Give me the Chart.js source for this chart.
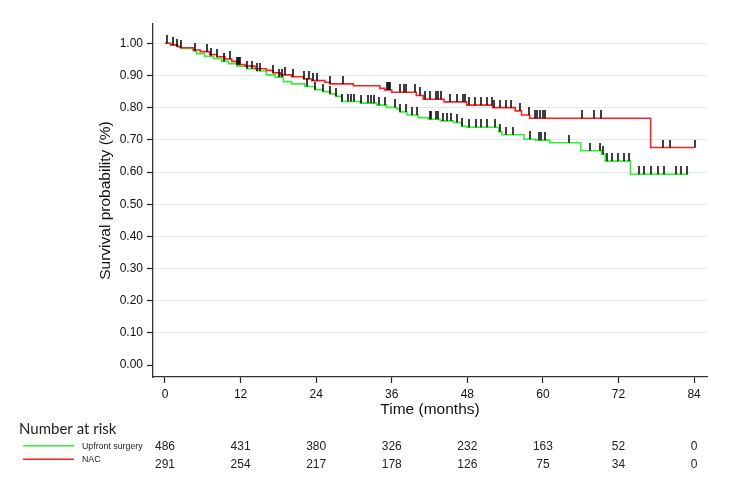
<!DOCTYPE html>
<html>
<head>
<meta charset="utf-8">
<script src="https://cdn.jsdelivr.net/npm/chart.js@4.4.1/dist/chart.umd.min.js"></script>
<style>
  html, body { margin: 0; padding: 0; background: #fff; }
</style>
</head>
<body>
<canvas id="km" width="750" height="498"></canvas>
<script>
/* ── Data ─────────────────────────────────────────── */
const xTicks = [0, 12, 24, 36, 48, 60, 72, 84];
const yTicks = [0, 0.1, 0.2, 0.3, 0.4, 0.5, 0.6, 0.7, 0.8, 0.9, 1.0];

// Kaplan–Meier steps: time of drop (months) and survival after it
const upfrontTimes = [0, 0.9, 2.1, 2.6, 4.5, 5.0, 6.3, 7.7, 9.0, 10.1, 11.4, 13.0, 14.6, 16.1, 17.5,
  18.8, 20.1, 22.2, 23.8, 25.1, 26.2, 27.2, 28.1, 31.0, 33.6, 35.2, 36.8, 37.3, 38.4, 40.2,
  41.8, 43.7, 45.8, 47.1, 47.9, 53.0, 53.5, 57.0, 58.8, 61.1, 66.0, 69.3, 69.9, 73.9];
const upfrontSurv = [1.000, 0.994, 0.989, 0.984, 0.976, 0.968, 0.960, 0.953, 0.944, 0.937, 0.929, 0.921, 0.914, 0.902, 0.895,
  0.881, 0.874, 0.866, 0.856, 0.850, 0.843, 0.835, 0.819, 0.814, 0.808, 0.801, 0.796, 0.787, 0.777, 0.769,
  0.764, 0.759, 0.754, 0.742, 0.739, 0.725, 0.716, 0.702, 0.699, 0.691, 0.666, 0.655, 0.634, 0.593];
const upfrontEnd = 83.1;
const upfrontCensor = [4.8, 7.3, 9.3, 13.1, 13.8, 14.6, 15.1, 18.1, 18.5, 22.5, 23.8, 25.1, 26.2, 27.2,
  28.1, 29.1, 29.5, 30.0, 31.2, 32.3, 32.7, 33.2, 33.9, 34.9, 36.5, 37.3, 38.3, 39.2, 40.0, 42.1,
  42.3, 43.1, 43.4, 44.1, 44.7, 45.4, 46.3, 47.1, 48.3, 49.4, 50.1, 51.1, 52.4, 53.2, 54.2, 55.3,
  57.9, 59.3, 59.7, 60.3, 64.2, 67.4, 69.1, 69.5, 70.2, 70.9, 71.9, 72.9, 73.6, 75.2, 76.1, 77.1,
  78.2, 79.2, 81.1, 82.0, 82.9];

const nacTimes = [0, 0.9, 1.9, 2.4, 4.5, 5.6, 7.1, 8.2, 9.5, 10.6, 11.4, 12.7, 14.3, 16.1, 17.2,
  18.3, 20.1, 22.0, 23.3, 25.4, 26.2, 29.9, 34.1, 34.9, 36.0, 39.9, 41.0, 44.3, 47.9, 52.0,
  55.6, 56.6, 57.9, 77.1];
const nacSurv = [1.000, 0.995, 0.990, 0.986, 0.979, 0.974, 0.965, 0.958, 0.951, 0.944, 0.934, 0.929, 0.921, 0.916, 0.908,
  0.902, 0.896, 0.889, 0.884, 0.879, 0.874, 0.868, 0.860, 0.855, 0.848, 0.838, 0.826, 0.818, 0.808, 0.800,
  0.790, 0.777, 0.767, 0.676];
const nacEnd = 84.1;
const nacCensor = [0.4, 1.2, 1.9, 2.5, 6.6, 8.2, 10.3, 11.45, 11.6, 11.75, 11.9, 17.2, 19.0, 20.3, 22.1,
  22.9, 23.5, 24.1, 26.2, 28.3, 35.2, 35.35, 35.5, 35.65, 37.3, 37.9, 38.3, 39.7, 40.5, 41.3, 42.1,
  43.1, 43.4, 43.9, 45.3, 46.3, 47.3, 47.6, 48.2, 49.2, 50.1, 51.1, 51.9, 52.2, 53.2, 54.1, 54.9,
  56.4, 57.8, 58.7, 59.1, 59.6, 60.0, 60.4, 66.2, 68.1, 69.2, 79.1, 80.2, 84.1];

// Number at risk table
const riskTimes = [0, 12, 24, 36, 48, 60, 72, 84];
const upfrontRisk = [486, 431, 380, 326, 232, 163, 52, 0];
const nacRisk = [291, 254, 217, 178, 126, 75, 34, 0];

/* ── Helpers ─────────────────────────────────────── */
const GREEN = '#33ee33';
const RED = '#ff2020';

function stepPoints(times, surv, end) {
  const pts = times.map((t, i) => ({ x: t, y: surv[i] }));
  pts.push({ x: end, y: surv[surv.length - 1] });
  return pts;
}

function survAt(times, surv, t) {
  let s = surv[0];
  for (let i = 0; i < times.length; i++) if (times[i] <= t) s = surv[i];
  return s;
}

function censorPoints(times, surv, cens) {
  return cens.map(t => ({ x: t, y: survAt(times, surv, t) }));
}

// censor tick: a short vertical bar sitting on top of the curve
const tickMark = document.createElement('canvas');
tickMark.width = 2;
tickMark.height = 16;
(function () {
  const c = tickMark.getContext('2d');
  c.fillStyle = '#111';
  c.fillRect(0.2, 0, 1.6, 8);
})();

/* ── Number-at-risk table under the plot ─────────── */
const riskTable = {
  id: 'riskTable',
  afterDraw(chart) {
    const { ctx } = chart;
    const x = chart.scales.x;
    ctx.save();
    ctx.fillStyle = '#222';
    ctx.textBaseline = 'middle';
    ctx.textAlign = 'left';
    ctx.font = '15px Lato';
    ctx.fillText('Number at risk', 19, 429);

    const rows = [
      { label: 'Upfront surgery', color: GREEN, vals: upfrontRisk, y: 446.5 },
      { label: 'NAC', color: RED, vals: nacRisk, y: 464.5 }
    ];
    rows.forEach((r, k) => {
      const ly = k === 0 ? 445.7 : 459.3;
      ctx.strokeStyle = r.color;
      ctx.lineWidth = 1.6;
      ctx.beginPath();
      ctx.moveTo(23, ly);
      ctx.lineTo(74, ly);
      ctx.stroke();
      ctx.fillStyle = '#222';
      ctx.textAlign = 'left';
      ctx.font = '8.8px "Liberation Sans"';
      ctx.fillText(r.label, 82, ly + 0.5);
      ctx.textAlign = 'center';
      ctx.font = '12px "Liberation Sans"';
      r.vals.forEach((v, i) => ctx.fillText(String(v), x.getPixelForValue(riskTimes[i]), r.y));
    });
    ctx.restore();
  }
};

/* ── Chart ───────────────────────────────────────── */
new Chart(document.getElementById('km'), {
  type: 'line',
  data: {
    datasets: [
      {
        label: 'censor NAC',
        type: 'scatter',
        data: censorPoints(nacTimes, nacSurv, nacCensor),
        pointStyle: tickMark,
        pointRadius: 3,
        showLine: false
      },
      {
        label: 'censor upfront',
        type: 'scatter',
        data: censorPoints(upfrontTimes, upfrontSurv, upfrontCensor),
        pointStyle: tickMark,
        pointRadius: 3,
        showLine: false
      },
      {
        label: 'NAC',
        data: stepPoints(nacTimes, nacSurv, nacEnd),
        stepped: true,
        borderColor: RED,
        borderWidth: 1.6,
        pointRadius: 0,
        fill: false
      },
      {
        label: 'Upfront surgery',
        data: stepPoints(upfrontTimes, upfrontSurv, upfrontEnd),
        stepped: true,
        borderColor: GREEN,
        borderWidth: 1.6,
        pointRadius: 0,
        fill: false
      }
    ]
  },
  options: {
    responsive: false,
    animation: false,
    events: [],
    layout: { padding: { left: 0, right: 43, top: 24, bottom: 75 } },
    plugins: {
      legend: { display: false },
      tooltip: { enabled: false }
    },
    scales: {
      x: {
        type: 'linear',
        min: -1.9,
        max: 86.05,
        afterBuildTicks: s => { s.ticks = xTicks.map(v => ({ value: v })); },
        afterFit: s => { s.height = 46; },
        ticks: {
          autoSkip: false,
          maxRotation: 0,
          padding: 4,
          color: '#111',
          font: { family: 'Liberation Sans', size: 12 }
        },
        grid: { drawOnChartArea: false, tickLength: 6, tickColor: '#222', tickWidth: 1.2 },
        border: { display: true, color: '#333', width: 1.3 },
        title: {
          display: true,
          text: 'Time (months)',
          color: '#111',
          font: { family: 'Liberation Sans', size: 15.5 },
          padding: { top: 0, bottom: 4 }
        }
      },
      y: {
        type: 'linear',
        min: -0.037,
        max: 1.06,
        afterBuildTicks: s => { s.ticks = yTicks.map(v => ({ value: v })); },
        afterFit: s => { s.width = 153; },
        ticks: {
          padding: 4,
          color: '#111',
          font: { family: 'Liberation Sans', size: 12 },
          callback: v => Number(v).toFixed(2)
        },
        grid: {
          color: c => (c.tick && c.tick.value === 0 ? 'rgba(0,0,0,0)' : '#e1eaee'),
          lineWidth: 1,
          tickLength: 6,
          tickColor: '#222',
          tickWidth: 1.2
        },
        border: { display: true, color: '#333', width: 1.3 },
        title: {
          display: true,
          text: 'Survival probability (%)',
          color: '#111',
          font: { family: 'Liberation Sans', size: 15.5 },
          padding: { top: 96, bottom: 0 }
        }
      }
    }
  },
  plugins: [riskTable]
});
</script>
</body>
</html>
